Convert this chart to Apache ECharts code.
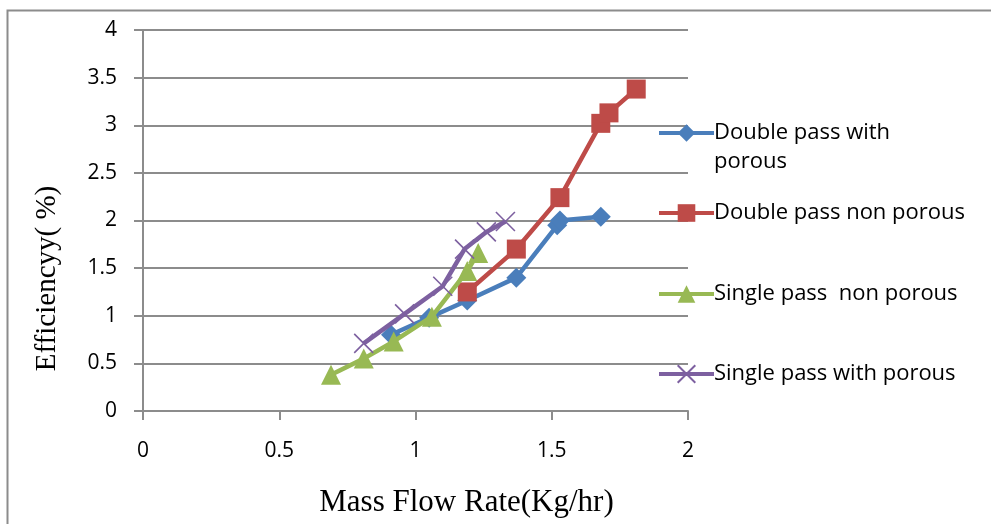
<!DOCTYPE html>
<html>
<head>
<meta charset="utf-8">
<script src="https://cdn.jsdelivr.net/npm/echarts@6/dist/echarts.min.js"></script>
<style>
  html, body { margin: 0; padding: 0; background: #fff; }
  #chart { width: 991px; height: 524px; }
</style>
</head>
<body>
<div id="chart"></div>
<script>
// Efficiency versus mass flow rate for four collector configurations
const seriesNames = [
  'Double pass with porous',
  'Double pass non porous',
  'Single pass  non porous',
  'Single pass with porous'
];

// [mass flow rate (kg/hr), efficiency (%)]
const doublePassPorous = [
  [0.91, 0.80], [1.05, 0.98], [1.19, 1.16], [1.37, 1.40],
  [1.52, 1.95], [1.53, 2.00], [1.68, 2.04]
];
const doublePassNonPorous = [
  [1.19, 1.25], [1.37, 1.70], [1.53, 2.24], [1.68, 3.02],
  [1.71, 3.13], [1.81, 3.38]
];
const singlePassNonPorous = [
  [0.69, 0.38], [0.81, 0.55], [0.92, 0.73], [1.06, 0.99],
  [1.19, 1.47], [1.23, 1.66]
];
const singlePassPorous = [
  [0.81, 0.71], [0.96, 1.02], [1.10, 1.31], [1.18, 1.70],
  [1.26, 1.88], [1.33, 1.99]
];

const xTicks = { min: 0, max: 2, step: 0.5 };
const yTicks = { min: 0, max: 4, step: 0.5 };

const colors = ['#4a7ebb', '#be4b48', '#98b954', '#7d60a0'];
const dataSets = [doublePassPorous, doublePassNonPorous, singlePassNonPorous, singlePassPorous];

const crossPath = 'path://M0,0L10,10M10,0L0,10';
const symbols = ['diamond', 'rect', 'triangle', crossPath];
const symbolSizes = [20, 19, 20, 19];

const labelFont = '"Open Sans", "Noto Sans", sans-serif';
const serifFont = '"Liberation Serif", "DejaVu Serif", serif';

const series = dataSets.map((d, i) => ({
  name: seriesNames[i],
  type: 'line',
  data: d,
  symbol: symbols[i],
  symbolSize: symbolSizes[i],
  showSymbol: true,
  lineStyle: { color: colors[i], width: 4.5 },
  itemStyle: i === 3
    ? { color: colors[i], borderColor: colors[i], borderWidth: 1.6 }
    : { color: colors[i] },
  emphasis: { disabled: true },
  animation: false,
  z: 10 + i
}));

// One legend block per series so each entry sits at its own height
const legendTops = [122, 202, 283, 363];
const legendLabels = ['Double pass with', 'Double pass non porous', 'Single pass  non porous', 'Single pass with porous'];
const legends = seriesNames.map((n, i) => ({
  data: [n],
  left: 657,
  top: legendTops[i],
  padding: 0,
  itemWidth: 55,
  itemHeight: 22,
  itemGap: 0,
  selectedMode: false,
  lineStyle: { width: 4 },
  formatter: () => legendLabels[i],
  textStyle: { fontFamily: labelFont, fontSize: 22, color: '#000', padding: [0, 0, 0, -5] }
}));

const chart = echarts.init(document.getElementById('chart'));
chart.setOption({
  animation: false,
  backgroundColor: '#fff',
  grid: { left: 143, top: 30, right: 303, bottom: 113, containLabel: false },
  xAxis: {
    type: 'value',
    min: xTicks.min, max: xTicks.max, interval: xTicks.step,
    name: 'Mass Flow Rate(Kg/hr)',
    nameLocation: 'middle',
    nameGap: 76,
    nameTextStyle: { fontFamily: serifFont, fontSize: 31, color: '#000', padding: [0, 0, 0, 102] },
    axisLine: { show: true, lineStyle: { color: '#8c8c8c', width: 2 } },
    axisTick: { show: true, inside: false, length: 9, lineStyle: { color: '#8c8c8c', width: 2 } },
    axisLabel: { margin: 30, fontFamily: labelFont, fontSize: 21, color: '#000' },
    splitLine: { show: false }
  },
  yAxis: {
    type: 'value',
    min: yTicks.min, max: yTicks.max, interval: yTicks.step,
    name: 'Efficiencyy( %)',
    nameLocation: 'middle',
    nameGap: 81,
    nameRotate: 90,
    nameTextStyle: { fontFamily: serifFont, fontSize: 29, color: '#000', padding: [0, 116, 0, 0] },
    axisLine: { show: true, lineStyle: { color: '#8c8c8c', width: 2 } },
    axisTick: { show: true, inside: false, length: 9, lineStyle: { color: '#8c8c8c', width: 2 } },
    axisLabel: { margin: 26, fontFamily: labelFont, fontSize: 21, color: '#000' },
    splitLine: { show: true, lineStyle: { color: '#8c8c8c', width: 2 } }
  },
  legend: legends,
  graphic: [
    {
      type: 'rect',
      left: 5, top: 8,
      shape: { width: 1000, height: 530 },
      style: { fill: 'none', stroke: '#8c8c8c', lineWidth: 2 },
      silent: true, z: -1
    },
    {
      type: 'text',
      left: 714, top: 151,
      style: { text: 'porous', fontFamily: labelFont, fontSize: 22, fill: '#000' },
      silent: true
    }
  ],
  series: series
});
</script>
</body>
</html>
